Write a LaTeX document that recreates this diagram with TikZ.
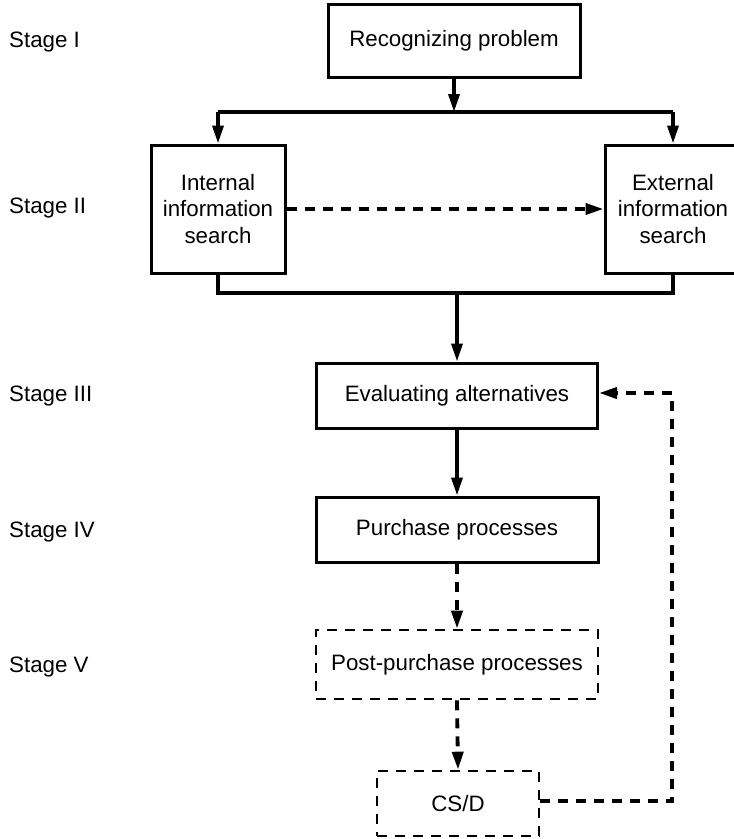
\documentclass[tikz,border=0pt]{standalone}
\usepackage{fontspec}
\setmainfont{Liberation Sans}
\usetikzlibrary{arrows.meta}
\begin{document}
\begin{tikzpicture}[x=1pt,y=-1pt,
  every node/.style={font=\fontsize{22.3}{26.7}\selectfont},
  box/.style={draw,line width=3pt,align=center,inner sep=0pt},
  dbox/.style={draw,line width=2.6pt,align=center,inner sep=0pt,dash pattern=on 10pt off 8pt},
  link/.style={line width=3.6pt},
  arr/.style={line width=3.6pt,-{Triangle[length=18pt,width=11pt]}},
  darr/.style={line width=3.8pt,dash pattern=on 10pt off 8pt,-{Triangle[length=18pt,width=11pt]}},
  dlink/.style={line width=3.8pt,dash pattern=on 10pt off 8pt},
  stage/.style={anchor=west,inner sep=0pt}]
\useasboundingbox (0,0) rectangle (734,839);
% stage labels
\node[stage] (s1) at (9,42) {Stage I};
\node[stage] (s2) at (9,208) {Stage II};
\node[stage] (s3) at (9,396) {Stage III};
\node[stage] (s4) at (9,532) {Stage IV};
\node[stage] (s5) at (9,667) {Stage V};
% boxes
\node[box,minimum width=252pt,minimum height=73pt] (rec) at (454,40.5) {Recognizing problem};
\node[box,minimum width=134pt,minimum height=128pt] (int) at (218,209) {Internal\\information\\search};
\node[box,minimum width=136pt,minimum height=128pt] (ext) at (673,209) {External\\information\\search};
\node[box,minimum width=281pt,minimum height=65pt] (eval) at (457,395.5) {Evaluating alternatives};
\node[box,minimum width=282pt,minimum height=65pt] (purch) at (457,529.5) {Purchase processes};
\node[dbox,minimum width=282pt,minimum height=69pt] (post) at (457,664.5) {Post-purchase processes};
\node[dbox,minimum width=162pt,minimum height=65pt] (csd) at (458,803.5) {CS/D};
% junction points
\coordinate (tj) at (454,112);
\coordinate (tl) at (218,112);
\coordinate (tr) at (673,112);
\coordinate (bj) at (457,293);
\coordinate (fb1) at (672,801);
\coordinate (fb2) at (672,393);
% connectors
\draw[arr] (rec.south) -- (tj);
\draw[link] (tl) -- (tr);
\draw[arr] (tl) -- (int.north);
\draw[arr] (tr) -- (ext.north);
\draw[darr] (int.east) -- (ext.west);
\draw[link] (int.south) |- (bj) -| (ext.south);
\draw[arr] (bj) -- (eval.north);
\draw[arr] (eval.south) -- (purch.north);
\draw[darr] (purch.south) -- (post.north);
\draw[darr] (post.south) -- (csd.north);
\draw[dlink] (csd.east |- fb1) -- (fb1) -- (fb2);
\draw[darr] (fb2) -- (eval.east |- fb2);
\end{tikzpicture}
\end{document}
